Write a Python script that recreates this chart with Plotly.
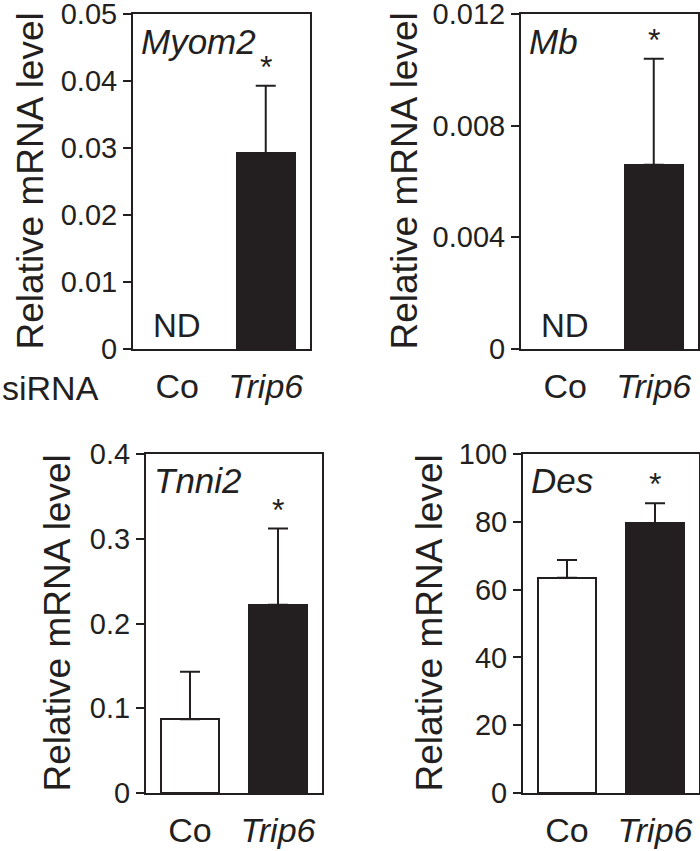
import plotly.graph_objects as go

# ---------------- data ----------------
genes = ["Myom2", "Mb", "Tnni2", "Des"]
categories = ["Co", "Trip6"]
category_labels = ["Co", "<i>Trip6</i>"]

myom2_mean = [None, 0.0292]
myom2_err = [0, 0.0101]
mb_mean = [None, 0.0066]
mb_err = [0, 0.0038]
tnni2_mean = [0.087, 0.222]
tnni2_err = [0.056, 0.090]
des_mean = [63.5, 79.6]
des_err = [5.2, 5.9]

myom2_ticks = [0, 0.01, 0.02, 0.03, 0.04, 0.05]
myom2_ticktext = ["0", "0.01", "0.02", "0.03", "0.04", "0.05"]
mb_ticks = [0, 0.004, 0.008, 0.012]
mb_ticktext = ["0", "0.004", "0.008", "0.012"]
tnni2_ticks = [0, 0.1, 0.2, 0.3, 0.4]
tnni2_ticktext = ["0", "0.1", "0.2", "0.3", "0.4"]
des_ticks = [0, 20, 40, 60, 80, 100]
des_ticktext = ["0", "20", "40", "60", "80", "100"]

not_detected = [True, True, False, False]   # Co is ND for Myom2, Mb
significant = [True, True, True, True]      # asterisk over Trip6

y_title = "Relative mRNA level"
row_label = "siRNA"
nd_label = "ND"
star = "*"

# ---------------- styling ----------------
W, H = 700, 851
INK = "#231f20"
FONT = "Liberation Sans, Arial, Helvetica, sans-serif"

# panel boxes in pixels: (left, right, top, bottom)
boxes = [(133, 310, 14, 349), (521, 698, 14, 349),
         (146, 322, 454, 793), (523, 699, 454, 793)]
title_x = [30, 404, 57, 429]

means = [myom2_mean, mb_mean, tnni2_mean, des_mean]
errs = [myom2_err, mb_err, tnni2_err, des_err]
ticks = [myom2_ticks, mb_ticks, tnni2_ticks, des_ticks]
ticktexts = [myom2_ticktext, mb_ticktext, tnni2_ticktext, des_ticktext]

fig = go.Figure()
annotations = []

for i in range(4):
    ax = "" if i == 0 else str(i + 1)
    xa, ya = "x" + ax, "y" + ax
    l, r, t, b = boxes[i]
    fig.add_trace(go.Bar(
        x=[0, 1], y=means[i], xaxis=xa, yaxis=ya, width=0.65,
        marker=dict(color=["white", INK], line=dict(color=INK, width=2)),
        error_y=dict(type="data", symmetric=False, array=errs[i],
                     arrayminus=[0, 0], color=INK, thickness=2, width=10,
                     visible=True),
        showlegend=False, hoverinfo="skip",
    ))
    axis_common = dict(showline=True, linewidth=2, linecolor=INK, mirror=True,
                       showgrid=False, zeroline=False, automargin=False,
                       ticklabeloverflow="allow")
    fig.update_layout(**{
        ("xaxis" + ax): dict(
            domain=[l / W, r / W], anchor=ya, range=[-0.5, 1.5],
            tickvals=[0, 1], ticktext=category_labels,
            ticks="outside", ticklen=6, tickcolor="rgba(0,0,0,0)",
            tickfont=dict(family=FONT, size=34, color=INK),
            **axis_common),
        ("yaxis" + ax): dict(
            domain=[1 - b / H, 1 - t / H], anchor=xa,
            range=[ticks[i][0], ticks[i][-1]],
            tickvals=ticks[i], ticktext=ticktexts[i],
            ticks="outside", ticklen=8, tickwidth=2, tickcolor=INK,
            tickfont=dict(family=FONT, size=29, color=INK),
            **axis_common),
    })
    # y title
    annotations.append(dict(
        text=y_title, xref="paper", yref="paper", x=title_x[i] / W,
        y=1 - (t + b) / 2 / H, textangle=-90, showarrow=False,
        xanchor="center", yanchor="middle",
        font=dict(family=FONT, size=37, color=INK)))
    # gene label
    annotations.append(dict(
        text="<i>" + genes[i] + "</i>", xref="paper", yref="paper",
        x=(l + 6) / W, y=1 - (t + 27) / H, showarrow=False,
        xanchor="left", yanchor="middle",
        font=dict(family=FONT, size=35, color=INK)))
    # asterisk
    if significant[i]:
        annotations.append(dict(
            text=star, xref=xa, yref=ya, x=1, y=means[i][1] + errs[i][1],
            showarrow=False, xanchor="center", yanchor="bottom", yshift=-1,
            font=dict(family=FONT, size=32, color=INK)))
    # ND
    if not_detected[i]:
        annotations.append(dict(
            text=nd_label, xref=xa, yref=ya, x=0, y=0,
            showarrow=False, xanchor="center", yanchor="bottom", yshift=3,
            font=dict(family=FONT, size=33, color=INK)))

annotations.append(dict(
    text=row_label, xref="paper", yref="paper", x=0, y=1 - 388 / H,
    showarrow=False, xanchor="left", yanchor="middle",
    font=dict(family=FONT, size=34, color=INK)))

fig.update_layout(
    width=W, height=H, margin=dict(l=0, r=0, t=0, b=0, autoexpand=False),
    paper_bgcolor="white", plot_bgcolor="white",
    annotations=annotations, bargap=0,
)

fig.write_html("out.html", config={"displayModeBar": False},
               post_script="document.body.style.margin='0';")
